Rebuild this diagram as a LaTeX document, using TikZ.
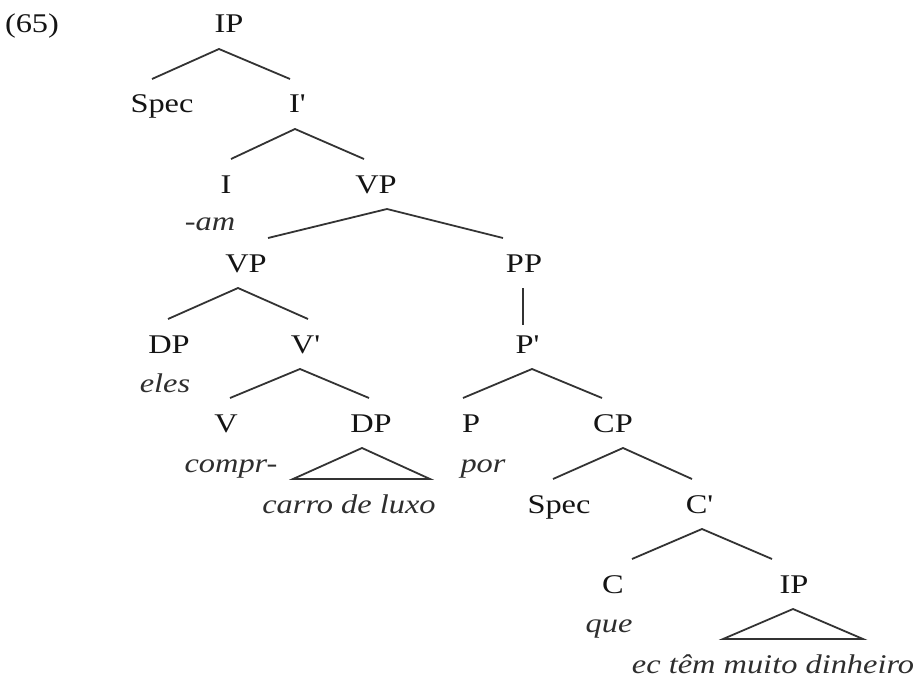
\documentclass[tikz,border=0pt]{standalone}
\usepackage{fontspec}
\setmainfont{Liberation Serif}[FakeStretch=1.2]
\newcommand{\prm}{\textquotesingle}
\begin{document}
\begin{tikzpicture}[x=0.5pt,y=-0.5pt,
  cat/.style={anchor=base, inner sep=0pt, outer xsep=0pt, outer ysep=8pt,
    text height=9pt, text depth=0pt, font=\fontsize{13.5}{16}\selectfont, text=black!92},
  lex/.style={anchor=base, inner sep=0pt, outer xsep=0pt, outer ysep=8pt,
    text height=9pt, text depth=0pt, font=\fontsize{13.5}{16}\selectfont\itshape, text=black!82},
  br/.style={draw=black!80, line width=0.9pt, line join=miter}]
\useasboundingbox (0,0) rectangle (924,679);
% label
\node[cat, anchor=base west] (num) at (5,33) {(65)};
% categories
\node[cat] (IP) at (229,33) {IP};
\node[cat] (SpecI) at (162,113) {Spec};
\node[cat] (Ibar) at (297,113) {I\prm};
\node[cat] (I) at (226,193) {I};
\node[cat] (VP) at (376,193) {VP};
\node[cat] (VPb) at (246,272) {VP};
\node[cat] (PP) at (524,272) {PP};
\node[cat] (DPs) at (169,353) {DP};
\node[cat] (Vbar) at (305,353) {V\prm};
\node[cat] (Pbar) at (527,353) {P\prm};
\node[cat] (V) at (226,432) {V};
\node[cat] (DPo) at (371,432) {DP};
\node[cat] (P) at (471,432) {P};
\node[cat] (CP) at (613,432) {CP};
\node[cat] (SpecC) at (559,513) {Spec};
\node[cat] (Cbar) at (699,513) {C\prm};
\node[cat] (C) at (613,593) {C};
\node[cat] (IPb) at (794,593) {IP};
% lexical items
\node[lex] (am) at (210,230) {-am};
\node[lex] (eles) at (165,392) {eles};
\node[lex] (compr) at (231,472) {compr-};
\node[lex] (carro) at (349,513) {carro de luxo};
\node[lex] (por) at (483,472) {por};
\node[lex] (que) at (609,632) {que};
\node[lex] (ec) at (773,673) {ec têm muito dinheiro};
% branches
\draw[br] ([xshift=-5pt]SpecI.north) -- ([xshift=-5pt]IP.south) -- ([xshift=-3.5pt]Ibar.north);
\draw[br] ([xshift=2.5pt]I.north) -- ([xshift=-1pt]Ibar.south) -- ([xshift=-6pt]VP.north);
\draw[br] ([xshift=11pt]VPb.north) -- ([xshift=5.5pt]VP.south) -- ([xshift=-10.5pt]PP.north);
\draw[br] ([xshift=-0.5pt]DPs.north) -- ([xshift=-4pt]VPb.south) -- ([xshift=1.5pt]Vbar.north);
\draw[br] ([xshift=-0.5pt]PP.south) -- ([xshift=-2pt,yshift=-3pt]Pbar.north);
\draw[br] ([xshift=2pt]V.north) -- ([xshift=-2.5pt]Vbar.south) -- ([xshift=-1pt]DPo.north);
\draw[br] ([xshift=-4pt]P.north) -- ([xshift=2.5pt]Pbar.south) -- ([xshift=-5.5pt]CP.north);
\draw[br] ([xshift=-3pt]SpecC.north) -- ([xshift=5pt]CP.south) -- ([xshift=-3.5pt]Cbar.north);
\draw[br] ([xshift=9.5pt]C.north) -- ([xshift=1.5pt]Cbar.south) -- ([xshift=-11pt]IPb.north);
% triangles
\draw[br] ([xshift=-4.5pt]DPo.south) -- ([xshift=-28pt]carro.north) -- ([xshift=40.5pt]carro.north) -- cycle;
\draw[br] ([xshift=-0.5pt]IPb.south) -- ([xshift=-25pt]ec.north) -- ([xshift=45pt]ec.north) -- cycle;
\end{tikzpicture}
\end{document}
